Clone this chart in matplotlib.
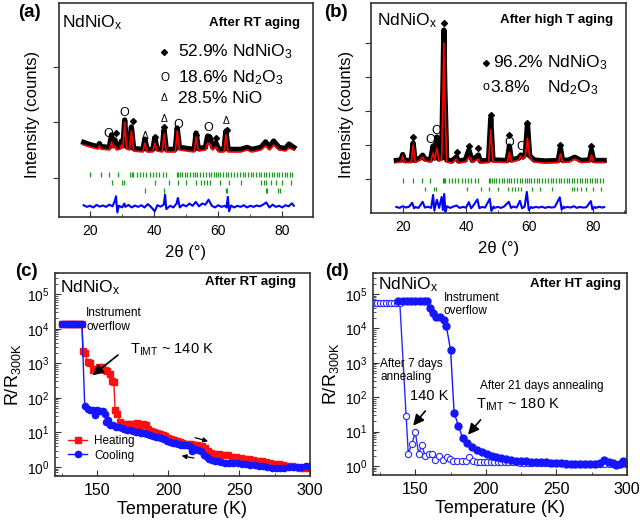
import numpy as np
import matplotlib
matplotlib.use('Agg')
from matplotlib import pyplot as plt
from matplotlib.ticker import MultipleLocator, NullFormatter, LogLocator

plt.rcParams['font.family'] = ['Liberation Sans', 'DejaVu Sans']
plt.rcParams['mathtext.default'] = 'regular'

# ---------------- XRD (a) after RT aging ----------------
tt_a = [18.0, 20.0, 22.4, 22.9, 23.4, 26.0, 26.7, 27.2, 27.8, 28.4,
        29.4, 29.8, 30.3, 30.8, 31.4, 32.3, 32.9, 33.6, 36.5, 37.1,
        37.8, 39.6, 40.2, 40.9, 42.5, 43.1, 43.8, 46.6, 47.2, 47.9,
        52.5, 53.1, 53.8, 56.0, 56.7, 57.4, 58.3, 59.3, 60.2, 61.8,
        62.4, 63.1, 67.0, 69.0, 70.5, 73.3, 74.8, 76.0, 77.3, 79.0,
        81.0, 82.1, 83.6]
obs_a = [1640, 1600, 1565, 1620, 1565, 1550, 1775, 1585, 1685, 1550,
         1565, 1665, 1585, 2045, 1565, 1550, 1920, 1530, 1515, 1700,
         1515, 1515, 1720, 1530, 1515, 1865, 1515, 1515, 1900, 1550,
         1515, 1810, 1530, 1550, 1755, 1740, 1550, 1630, 1515, 1515,
         1845, 1515, 1515, 1550, 1515, 1550, 1650, 1550, 1665, 1550,
         1530, 1610, 1550]
calc_a = [1594, 1558, 1522, 1576, 1522, 1504, 1648, 1540, 1576, 1504,
          1522, 1594, 1540, 2008, 1522, 1504, 1846, 1486, 1468, 1630,
          1468, 1468, 1630, 1486, 1468, 1792, 1468, 1468, 1846, 1504,
          1468, 1738, 1486, 1504, 1630, 1612, 1504, 1558, 1468, 1468,
          1774, 1468, 1468, 1504, 1468, 1504, 1576, 1504, 1594, 1504,
          1486, 1540, 1504]
tt_diff_a = [18, 19, 20, 21, 22, 23, 24, 25, 26, 27, 27.7, 28.1, 28.5, 29, 30,
             30.7, 31, 32, 33, 34, 35, 36, 37, 38, 39, 40.2, 41, 42, 43, 43.4,
             43.8, 45, 46, 47, 47.4, 48, 49, 50, 51, 52, 53, 54, 55, 56, 57,
             58, 59, 60, 61, 62, 62.6, 63.0, 63.4, 64, 65, 66, 67, 68, 69, 70,
             71, 72, 73, 74, 75, 76, 77, 78, 79, 80, 81, 82, 83, 83.6]
diff_a = [510, 480, 500, 470, 515, 485, 505, 480, 520, 490, 580, 670, 380, 500, 470,
          540, 480, 515, 470, 505, 480, 510, 470, 530, 480, 400, 510, 485, 520, 700,
          440, 500, 470, 540, 640, 470, 520, 490, 540, 500, 570, 490, 540, 520, 610,
          500, 470, 510, 480, 500, 470, 660, 400, 505, 470, 500, 480, 510, 470, 500,
          480, 505, 490, 520, 560, 470, 520, 480, 500, 470, 510, 490, 545, 500]

# ---------------- XRD (b) after high T aging ----------------
tt_b = [18.0, 19.5, 20.0, 20.6, 22.7, 23.3, 23.9, 25.5, 26.3, 27.0,
        28.8, 29.6, 30.1, 30.8, 31.4, 32.3, 32.7, 33.0, 33.3, 33.9,
        35.5, 37.0, 37.6, 39.8, 40.9, 41.4, 42.0, 43.9, 44.5, 47.1,
        47.8, 48.5, 53.0, 53.7, 54.3, 56.6, 57.3, 57.9, 58.7, 59.4,
        60.1, 61.5, 65.0, 69.1, 69.8, 70.5, 72.5, 74.3, 76.3, 79.0,
        79.6, 80.3, 83.6]
obs_b = [1545, 1560, 1720, 1545, 1545, 2060, 1545, 1615, 1700, 1590,
         1560, 1970, 1615, 2235, 1590, 1615, 3700, 5380, 3700, 1560,
         1530, 1650, 1530, 1560, 1850, 1700, 1545, 1705, 1530, 1545,
         2790, 1560, 1545, 1970, 1560, 1615, 1705, 1645, 1720, 2620,
         1680, 1560, 1530, 1545, 1910, 1545, 1560, 1640, 1545, 1560,
         1850, 1545, 1545]
calc_b = [1485, 1500, 1676, 1485, 1485, 2000, 1485, 1559, 1647, 1529,
          1500, 1764, 1559, 1911, 1529, 1559, 3323, 4998, 3323, 1500,
          1470, 1588, 1470, 1500, 1647, 1617, 1485, 1588, 1470, 1485,
          2441, 1500, 1485, 1794, 1500, 1559, 1676, 1588, 1676, 2205,
          1617, 1500, 1470, 1485, 1735, 1485, 1500, 1588, 1485, 1500,
          1706, 1485, 1485]
tt_diff_b = [18, 19, 20, 21, 22, 23.0, 23.6, 24, 25, 26.3, 27, 28, 29, 29.6, 30.0,
             30.8, 31.5, 32.3, 32.7, 33.1, 33.5, 34, 35, 36, 37, 38, 39, 40, 40.9,
             41.6, 42, 43.6, 44.2, 45, 46, 47.5, 48.0, 48.7, 49, 50, 51, 52, 53.5,
             54.2, 55, 56, 57.0, 57.7, 58.5, 59.2, 59.8, 60.6, 61, 62, 63, 64, 65,
             66, 67, 68, 69.6, 70.2, 70.8, 71, 72, 73, 74, 75, 76, 77, 78, 79.4,
             79.9, 80.6, 81, 82, 83, 83.6]
diff_b = [180, 150, 200, 160, 185, 300, 140, 175, 150, 330, 160, 185, 150, 530, 80,
          390, 150, 470, 90, 560, 40, 200, 150, 190, 220, 150, 180, 160, 320,
          140, 180, 400, 140, 180, 160, 420, 60, 190, 150, 180, 150, 190, 330,
          150, 190, 160, 360, 140, 190, 620, 90, 180, 150, 180, 160, 185, 150,
          180, 160, 175, 460, 100, 190, 150, 180, 160, 200, 150, 180, 160, 170, 350,
          110, 180, 150, 185, 160, 175]

# Bragg positions (green ticks)
pos_ndnio3 = [20.1, 23.3, 26.0, 28.7, 32.6, 33.0, 33.5, 34.5, 35.6, 36.6, 37.6, 38.6,
              39.6, 40.6, 41.6, 42.7, 43.8, 47.1, 47.5, 48.1, 48.8, 49.6, 50.4, 51.2,
              52.0, 52.9, 53.5, 54.3, 55.2, 56.1, 57.0, 57.8, 58.6, 59.2, 59.9, 60.6,
              61.5, 62.3, 63.1, 64.0, 65.0, 65.9, 66.8, 67.6, 68.4, 69.3, 70.1, 70.9,
              71.8, 72.6, 73.4, 74.2, 75.0, 75.9, 76.7, 77.5, 78.3, 79.1, 79.9, 80.7,
              81.5, 82.3, 83.1]
pos_nd2o3 = [26.9, 29.9, 30.6, 40.2, 44.6, 47.4, 50.0, 53.1, 54.6, 55.5, 56.4, 57.5,
             60.7, 63.5, 67.1, 73.4, 74.2, 74.9, 76.4, 78.0, 80.0, 82.7]
pos_nio = [37.2, 43.2, 62.5, 62.8, 74.9, 75.3, 78.8, 79.2]

# phase markers above peaks
dia_a_x = [28.0, 33.3, 40.4, 43.2, 53.1, 59.3, 62.6]
dia_a_y = [1810, 2026, 1738, 1918, 1774, 1720, 1864]
ring_a_x = [25.7, 30.7, 47.4, 57.0]
ring_a_y = [1792, 2170, 1954, 1900]
tri_a_x = [37.3, 43.2, 62.6]
tri_a_y = [1756, 2062, 2026]
dia_b_x = [23.3, 33.0, 37.0, 40.9, 43.9, 47.8, 53.7, 59.4, 69.8, 79.6]
dia_b_y = [2235, 5586, 1794, 1970, 1911, 2882, 2294, 2646, 2000, 1970]
ring_b_x = [28.8, 30.7, 53.7, 57.3]
ring_b_y = [2147, 2411, 2058, 1941]

# ---------------- R-T (c) after RT aging ----------------
heat_T = [125, 127, 129, 131, 133, 135, 137, 139, 140, 141, 143, 145, 147, 149, 151,
          153, 155, 157, 159, 160.5, 161.5, 162.5, 164, 166, 168, 170, 172, 174, 176,
          178, 180, 182, 184, 186, 188, 190, 192, 194, 196, 198, 200, 202, 204, 206,
          208, 210, 212, 214, 216, 218, 220, 222, 224, 226, 228, 230, 233, 236, 239,
          242, 245, 248, 251, 254, 257, 260, 263, 266, 269, 272, 275, 278, 281, 284,
          287, 290, 293, 296, 299]
heat_R = [1.4e4, 1.4e4, 1.4e4, 1.4e4, 1.4e4, 1.4e4, 1.4e4, 1.4e4, 2.2e3, 2.0e3, 1.1e3,
          1.05e3, 650, 700, 800, 780, 650, 600, 480, 300, 280, 45, 35, 20, 17, 17, 17,
          18, 15, 19, 14, 17, 16, 13, 11, 10, 9.5, 8.8, 8.3, 7.8, 7.0, 6.5, 6.0, 5.5,
          5.2, 4.9, 4.7, 4.6, 4.5, 4.4, 4.3, 4.1, 4.0, 3.6, 3.0, 2.6, 2.4, 2.35, 2.3,
          2.2, 2.0, 1.9, 1.8, 1.7, 1.65, 1.6, 1.5, 1.45, 1.4, 1.3, 1.25, 1.2, 1.15, 1.1,
          1.05, 1.0, 0.95, 0.95, 0.95]
cool_T = [125, 127, 129, 131, 133, 135, 137, 139, 141, 143, 145, 147, 148.5, 150, 152,
          154, 155, 156, 157.5, 159, 161, 163, 165, 167, 169, 171, 173, 175, 177, 179,
          181, 183, 185, 187, 189, 191, 193, 195, 197, 199, 201, 203, 205, 207, 209,
          211, 213, 215, 217, 219, 221, 223, 225, 227, 229, 231, 233, 235, 237, 240,
          243, 246, 249, 252, 255, 258, 261, 264, 267, 270, 273, 276, 279, 282, 285,
          288, 291, 294, 297, 300]
cool_R = [1.4e4, 1.4e4, 1.4e4, 1.4e4, 1.4e4, 1.4e4, 1.4e4, 1.4e4, 57, 48, 45, 44, 32,
          45, 42, 43, 35, 20, 23, 16, 16, 14.5, 14, 13.5, 13, 12, 11.5, 11, 10.5, 10,
          9.8, 9.5, 9, 8.5, 8, 7.6, 7.2, 6.8, 6.3, 5.8, 5.4, 5.1, 4.8, 4.6, 4.4, 4.3,
          4.2, 4.0, 2.9, 3.3, 3.2, 2.9, 2.3, 1.9, 1.7, 1.55, 1.5, 1.45, 1.4, 1.35, 1.33,
          1.3, 1.28, 1.25, 1.2, 1.17, 1.15, 1.1, 1.05, 0.97, 0.95, 0.95, 0.95, 0.95,
          0.97, 1.0, 1.0, 1.02, 1.05, 1.05]

# ---------------- R-T (d) after HT aging ----------------
d7_T = [121, 123, 125, 127, 129, 131, 133, 135, 137, 139, 143.5, 145, 147.5, 150,
        152.3, 154.7, 157, 159.4, 161.5, 164, 166.8, 169.4, 172.2, 174.5, 177, 179.7,
        182.8, 185.9, 188.2, 191, 193.5, 196, 198.5, 201, 203.5, 206, 208.5, 211, 213.5,
        216, 218.5, 221, 224, 227, 230, 233, 236, 239, 242, 245, 248, 251, 254, 257,
        260, 263, 266, 269, 272, 275, 278, 281, 284, 287, 290, 293, 296, 299]
d7_R = [5.6e4, 5.6e4, 5.6e4, 5.6e4, 5.6e4, 5.6e4, 5.6e4, 5.6e4, 5.6e4, 5.6e4, 28, 2.3,
        4.3, 9.7, 2.3, 4.0, 1.9, 2.2, 2.3, 1.55, 1.9, 1.5, 1.85, 1.6, 1.45, 1.45, 1.45,
        1.45, 1.8, 1.4, 1.35, 1.35, 1.33, 1.33, 1.32, 1.3, 1.3, 1.3, 1.28, 1.28, 1.27,
        1.27, 1.26, 1.25, 1.25, 1.24, 1.23, 1.23, 1.22, 1.22, 1.2, 1.2, 1.2, 1.19, 1.18,
        1.18, 1.17, 1.17, 1.16, 1.16, 1.15, 1.15, 1.15, 1.14, 1.14, 1.13, 1.13, 1.12]
d21_T = [138, 141, 144, 147, 150, 153, 156, 158.5, 160.5, 162.5, 165, 167.5, 170, 172,
         175, 177.5, 180.5, 183.5, 186.5, 190, 193.5, 197, 200.5, 204, 207.5, 211, 214.5,
         218, 221.5, 225, 228.5, 232, 235.5, 239, 242.5, 246, 249.5, 253, 256.5, 260,
         263.5, 267, 270.5, 274, 277.5, 281, 284, 287, 290, 292.5, 295, 297.5, 300]
d21_R = [6.3e4, 6.3e4, 6.3e4, 6.3e4, 6.3e4, 6.3e4, 6.3e4, 6.3e4, 3.9e4, 2.8e4, 2.2e4,
         2.1e4, 1.8e4, 1.15e4, 2.3e3, 35, 15, 6.5, 4.6, 3.7, 3.0, 2.5, 2.2, 2.0, 1.85,
         1.7, 1.6, 1.5, 1.45, 1.42, 1.4, 1.35, 1.32, 1.3, 1.28, 1.25, 1.22, 1.2, 1.18,
         1.16, 1.15, 1.14, 1.13, 1.13, 1.15, 1.25, 1.5, 1.3, 1.2, 1.1, 1.15, 1.45, 1.25]

green = '#1f9a1f'
spine_c = '#333333'

fig = plt.figure(figsize=(6.4, 5.23), dpi=100)
ax_a = fig.add_axes([0.0922, 0.5851, 0.3969, 0.4092])
ax_b = fig.add_axes([0.5797, 0.5927, 0.3984, 0.4015])
ax_c = fig.add_axes([0.0859, 0.0899, 0.3984, 0.3881])
ax_d = fig.add_axes([0.5828, 0.0918, 0.3969, 0.3862])

for ax in (ax_a, ax_b, ax_c, ax_d):
    for s in ax.spines.values():
        s.set_color(spine_c)
        s.set_linewidth(1.2)


def xrd_panel(ax, tt, obs, calc, tt_d, diff):
    # observed (thick black), calculated (red), difference (blue)
    ax.plot(tt, obs, color='k', lw=3.8, solid_joinstyle='round', zorder=2)
    ax.plot(tt, calc, color='red', lw=1.2, zorder=3)
    ax.plot(tt_d, diff, color='blue', lw=1.5, zorder=2)
    ax.set_xticks([20, 40, 60, 80])
    ax.xaxis.set_minor_locator(MultipleLocator(10))
    ax.tick_params(axis='x', which='both', direction='in', labelsize=10, pad=5,
                   color=spine_c)
    ax.tick_params(axis='x', which='major', length=4)
    ax.tick_params(axis='x', which='minor', length=2.5)
    ax.tick_params(axis='y', which='major', direction='out', length=4, labelleft=False,
                   color=spine_c)
    ax.set_xlabel('2θ (°)', fontsize=12, labelpad=5)
    ax.set_ylabel('Intensity (counts)', fontsize=12)


# panel (a)
xrd_panel(ax_a, tt_a, obs_a, calc_a, tt_diff_a, diff_a)
ax_a.set_xlim(10.3, 89.6)
ax_a.set_ylim(298, 4150)
ax_a.set_yticks([1000, 2000, 3000])
ax_a.vlines(pos_ndnio3, 1018, 1108, colors=green, lw=0.9)
ax_a.vlines(pos_nd2o3, 874, 964, colors=green, lw=0.9)
ax_a.vlines(pos_nio, 730, 820, colors=green, lw=0.9)
ax_a.plot(dia_a_x, dia_a_y, 'kD', ms=3)
for x, y in zip(ring_a_x, ring_a_y):
    ax_a.text(x, y, 'O', fontsize=9, ha='center', va='center')
for x, y in zip(tri_a_x, tri_a_y):
    ax_a.text(x, y, 'Δ', fontsize=7.5, ha='center', va='center')
ax_a.yaxis.set_label_coords(-0.075, 0.48)
ax_a.text(0.012, 0.91, 'NdNiO$_x$', transform=ax_a.transAxes, fontsize=12.5,
          va='center', ha='left')
ax_a.text(0.95, 0.905, 'After RT aging', transform=ax_a.transAxes, fontsize=9.5,
          fontweight='bold', va='center', ha='right')
ax_a.plot([0.413], [0.771], 'kD', ms=3, transform=ax_a.transAxes)
ax_a.text(0.469, 0.771, '52.9% NdNiO$_3$', transform=ax_a.transAxes, fontsize=12.5,
          va='center')
ax_a.text(0.416, 0.650, 'O', transform=ax_a.transAxes, fontsize=8.5, va='center',
          ha='center')
ax_a.text(0.469, 0.650, '18.6% Nd$_2$O$_3$', transform=ax_a.transAxes, fontsize=12.5,
          va='center')
ax_a.text(0.413, 0.556, 'Δ', transform=ax_a.transAxes, fontsize=7.5, va='center',
          ha='center')
ax_a.text(0.469, 0.556, '28.5% NiO', transform=ax_a.transAxes, fontsize=12.5,
          va='center')

# panel (b)
xrd_panel(ax_b, tt_b, obs_b, calc_b, tt_diff_b, diff_b)
ax_b.set_xlim(10.0, 90.5)
ax_b.set_ylim(0, 6174)
ax_b.set_yticks([1000, 2000, 3000, 4000, 5000])
ax_b.vlines(pos_ndnio3, 882, 1029, colors=green, lw=0.9)
ax_b.vlines(pos_nd2o3, 647, 765, colors=green, lw=0.9)
ax_b.plot(dia_b_x, dia_b_y, 'kD', ms=3)
for x, y in zip(ring_b_x, ring_b_y):
    ax_b.text(x, y, 'O', fontsize=9, ha='center', va='center')
ax_b.yaxis.set_label_coords(-0.068, 0.47)
ax_b.text(0.024, 0.914, 'NdNiO$_x$', transform=ax_b.transAxes, fontsize=12.5,
          va='center', ha='left')
ax_b.text(0.95, 0.919, 'After high T aging', transform=ax_b.transAxes, fontsize=9.5,
          fontweight='bold', va='center', ha='right')
ax_b.plot([0.45], [0.714], 'kD', ms=3, transform=ax_b.transAxes)
ax_b.text(0.48, 0.714, '96.2% NdNiO$_3$', transform=ax_b.transAxes, fontsize=12.5,
          va='center')
ax_b.text(0.451, 0.602, 'o', transform=ax_b.transAxes, fontsize=9, va='center',
          ha='center')
ax_b.text(0.469, 0.599, '3.8%', transform=ax_b.transAxes, fontsize=12.5, va='center')
ax_b.text(0.691, 0.599, 'Nd$_2$O$_3$', transform=ax_b.transAxes, fontsize=12.5,
          va='center')


def rt_axes(ax):
    ax.set_yscale('log')
    ax.set_xlim(120, 300)
    ax.set_ylim(0.55, 4.1e5)
    ax.xaxis.set_major_locator(MultipleLocator(50))
    ax.xaxis.set_minor_locator(MultipleLocator(25))
    ax.yaxis.set_major_locator(LogLocator(base=10, numticks=10))
    ax.yaxis.set_minor_locator(LogLocator(base=10, subs=np.arange(2, 10), numticks=10))
    ax.yaxis.set_minor_formatter(NullFormatter())
    ax.tick_params(which='both', direction='in', color=spine_c)
    ax.tick_params(which='major', length=4)
    ax.tick_params(which='minor', length=2)
    ax.tick_params(axis='x', labelsize=11.5, pad=5)
    ax.tick_params(axis='y', labelsize=10, pad=4)
    ax.set_xlabel('Temperature (K)', fontsize=13, labelpad=2)
    ax.set_ylabel('R/R$_{300K}$', fontsize=13, labelpad=3)


# panel (c)
rt_axes(ax_c)
ax_c.plot(heat_T, heat_R, '-s', color='#ff1010', ms=4, lw=1, label='Heating')
ax_c.plot(cool_T, cool_R, '-o', color='#1515ff', ms=4.5, lw=1, label='Cooling')
ax_c.legend(loc='lower left', bbox_to_anchor=(0.02, 0.03), frameon=False, fontsize=8.5,
            handlelength=1.6, handletextpad=0.6, labelspacing=0.25, borderpad=0.2)
ax_c.text(0.02, 0.93, 'NdNiO$_x$', transform=ax_c.transAxes, fontsize=12.5,
          va='center', ha='left')
ax_c.text(0.945, 0.955, 'After RT aging', transform=ax_c.transAxes, fontsize=9.5,
          fontweight='bold', va='center', ha='right')
ax_c.text(142, 1.8e4, 'Instrument\noverflow', fontsize=8.5, va='center', ha='left',
          linespacing=1.15)
ax_c.text(173, 2.5e3, 'T$_{IMT}$ ~ 140 K', fontsize=10.5, va='center', ha='left')
ax_c.annotate('', xy=(145, 400), xytext=(166, 1950),
              arrowprops=dict(arrowstyle='-|>', mutation_scale=16, lw=1.2, color='k'))
ax_c.annotate('', xy=(230, 5.3), xytext=(217, 7.4),
              arrowprops=dict(arrowstyle='-|>', mutation_scale=7, lw=0.9, color='k'))
ax_c.annotate('', xy=(207.5, 2.2), xytext=(220, 1.75),
              arrowprops=dict(arrowstyle='-|>', mutation_scale=7, lw=0.9, color='k'))

# panel (d)
rt_axes(ax_d)
ax_d.plot(d7_T, d7_R, '-o', color='#2a2aff', mfc='white', mec='#2a2aff', ms=4.5,
          lw=1, mew=0.8)
ax_d.plot(d21_T, d21_R, '-o', color='#1515ff', ms=5, lw=1)
ax_d.text(0.02, 0.94, 'NdNiO$_x$', transform=ax_d.transAxes, fontsize=12.5,
          va='center', ha='left')
ax_d.text(0.977, 0.945, 'After HT aging', transform=ax_d.transAxes, fontsize=9.5,
          fontweight='bold', va='center', ha='right')
ax_d.text(170, 5e4, 'Instrument\noverflow', fontsize=8.5, va='center', ha='left',
          linespacing=1.15)
ax_d.text(125, 600, 'After 7 days\nannealing', fontsize=8.5, va='center', ha='left',
          linespacing=1.15)
ax_d.text(146, 107, '140 K', fontsize=10.5, va='center', ha='left')
ax_d.text(196, 209, 'After 21 days annealing', fontsize=8.5, va='center', ha='left')
ax_d.text(193, 59, 'T$_{IMT}$ ~ 180 K', fontsize=10.5, va='center', ha='left')
ax_d.annotate('', xy=(147.2, 13), xytext=(158.3, 46),
              arrowprops=dict(arrowstyle='-|>', mutation_scale=16, lw=1.2, color='k'))
ax_d.annotate('', xy=(186.1, 7.1), xytext=(197.5, 25.4),
              arrowprops=dict(arrowstyle='-|>', mutation_scale=16, lw=1.2, color='k'))

# panel letters
fig.text(0.028, 0.976, '(a)', fontsize=13.5, fontweight='bold', va='center')
fig.text(0.506, 0.976, '(b)', fontsize=13.5, fontweight='bold', va='center')
fig.text(0.023, 0.48, '(c)', fontsize=13.5, fontweight='bold', va='center')
fig.text(0.508, 0.48, '(d)', fontsize=13.5, fontweight='bold', va='center')

fig.savefig('out.png', dpi=100)
